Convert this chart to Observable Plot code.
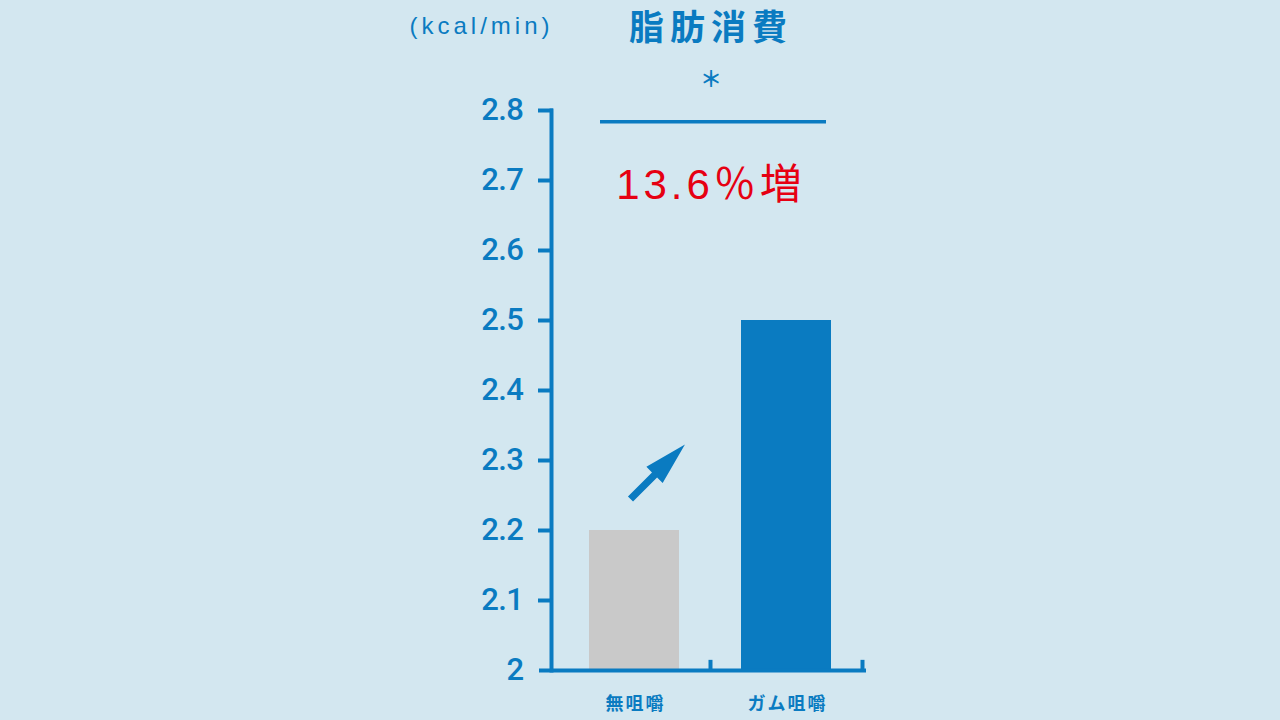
<!DOCTYPE html>
<html>
<head>
<meta charset="utf-8">
<script src="https://cdn.jsdelivr.net/npm/d3@7"></script>
<script src="https://cdn.jsdelivr.net/npm/@observablehq/plot@0.6"></script>
<style>
  html, body { margin: 0; padding: 0; background: #d3e7f0; }
  #chart svg { display: block; }
</style>
</head>
<body>
<div id="chart"></div>
<script>
const categories = ["無咀嚼", "ガム咀嚼"];
const values = [2.2, 2.5];
const yTicks = [2, 2.1, 2.2, 2.3, 2.4, 2.5, 2.6, 2.7, 2.8];
const tickLabels = ["2", "2.1", "2.2", "2.3", "2.4", "2.5", "2.6", "2.7", "2.8"];
const title = "脂肪消費";
const unit = "(kcal/min)";
const increaseLabel = "13.6％増";
const significance = "＊";
const sigLevel = [2.784];
const arrowStart = [{cat: "無咀嚼", v: 2.245}];

const BLUE = "#0a7bc1";
const GRAY = "#c9c9c9";
const RED = "#e60012";
const BG = "#d3e7f0";

const data = categories.map((c, i) => ({cat: c, v: values[i]}));

const arrowShape = {
  draw(context, l) {
    const hw = 11.5, hl = 43, sw = 3.6;
    context.moveTo(-sw, 0);
    context.lineTo(-sw, -(l - hl));
    context.lineTo(-hw, -(l - hl));
    context.lineTo(0, -l);
    context.lineTo(hw, -(l - hl));
    context.lineTo(sw, -(l - hl));
    context.lineTo(sw, 0);
    context.closePath();
  }
};

const chart = Plot.plot({
  width: 1280,
  height: 720,
  marginLeft: 551,
  marginRight: 416,
  marginTop: 110,
  marginBottom: 50,
  style: {background: BG, overflow: "visible"},
  x: {domain: categories, paddingInner: 0.41, paddingOuter: 0.23, align: 0.53, axis: null},
  y: {domain: [2, 2.8], axis: null},
  marks: [
    Plot.barY(data, {x: "cat", y1: 2, y2: "v", fill: (d, i) => i === 0 ? GRAY : BLUE}),
    // y axis line
    Plot.frame({anchor: "left", stroke: BLUE, strokeWidth: 4}),
    // baseline
    Plot.ruleY([2], {stroke: BLUE, strokeWidth: 4, insetLeft: -12, insetRight: -2}),
    // y ticks
    Plot.tickY(yTicks.slice(1), {y: d => d, stroke: BLUE, strokeWidth: 4, insetLeft: -13, insetRight: 311}),
    Plot.text(yTicks, {
      y: d => d, text: (d, i) => tickLabels[i], frameAnchor: "left", dx: -28, textAnchor: "end",
      fill: BLUE, fontSize: 31, fontWeight: 500, fontFamily: "Roboto, Liberation Sans, sans-serif"
    }),
    // x boundary ticks
    Plot.ruleX(categories, {x: d => d, y1: 2, y2: 2.0145, dx: 76, stroke: BLUE, strokeWidth: 4}),
    // category labels
    Plot.text(categories, {
      x: d => d, frameAnchor: "bottom", dy: 39, dx: 1, text: d => d, fill: BLUE,
      fontSize: 18, fontWeight: "bold", fontFamily: "Noto Sans CJK JP, sans-serif"
    }),
    // significance line
    Plot.ruleY(sigLevel, {stroke: BLUE, strokeWidth: 3.5, insetLeft: 49, insetRight: 38}),
    Plot.text(sigLevel, {
      y: d => d, text: () => significance, frameAnchor: "middle", dx: 3, dy: -42,
      fill: BLUE, fontSize: 22, fontWeight: "bold", fontFamily: "Noto Sans CJK JP, sans-serif"
    }),
    Plot.text(sigLevel, {
      y: d => d, text: () => increaseLabel, frameAnchor: "middle", dx: 3, dy: 64,
      fill: RED, fontSize: 42, fontFamily: "Liberation Sans, Noto Sans CJK JP, sans-serif"
    }),
    // arrow
    Plot.vector(arrowStart, {
      x: "cat", y: "v", dx: -4, length: 77, rotate: 45, anchor: "start", shape: arrowShape,
      fill: BLUE, stroke: "none"
    }),
    // title & unit
    Plot.text([title], {
      frameAnchor: "top", lineAnchor: "middle", text: d => d, dx: 3, dy: -82, fill: BLUE, fontSize: 35, fontWeight: "bold",
      fontFamily: "Noto Sans CJK JP, sans-serif"
    }),
    Plot.text([unit], {
      frameAnchor: "top-left", lineAnchor: "middle", text: d => d, dx: 2, dy: -84, textAnchor: "end", fill: BLUE, fontSize: 24,
      fontFamily: "Liberation Sans, sans-serif"
    })
  ]
});

// letter spacing per text (style only)
const spacing = new Map([
  [title, "6px"], [unit, "4px"], [increaseLabel, "4px"],
  [categories[0], "2px"], [categories[1], "2px"]
]);
d3.select(chart).selectAll("text").each(function() {
  const t = this.textContent;
  if (spacing.has(t)) this.style.letterSpacing = spacing.get(t);
  else if (tickLabels.includes(t)) this.style.letterSpacing = "-0.5px";
});

document.getElementById("chart").appendChild(chart);
</script>
</body>
</html>
